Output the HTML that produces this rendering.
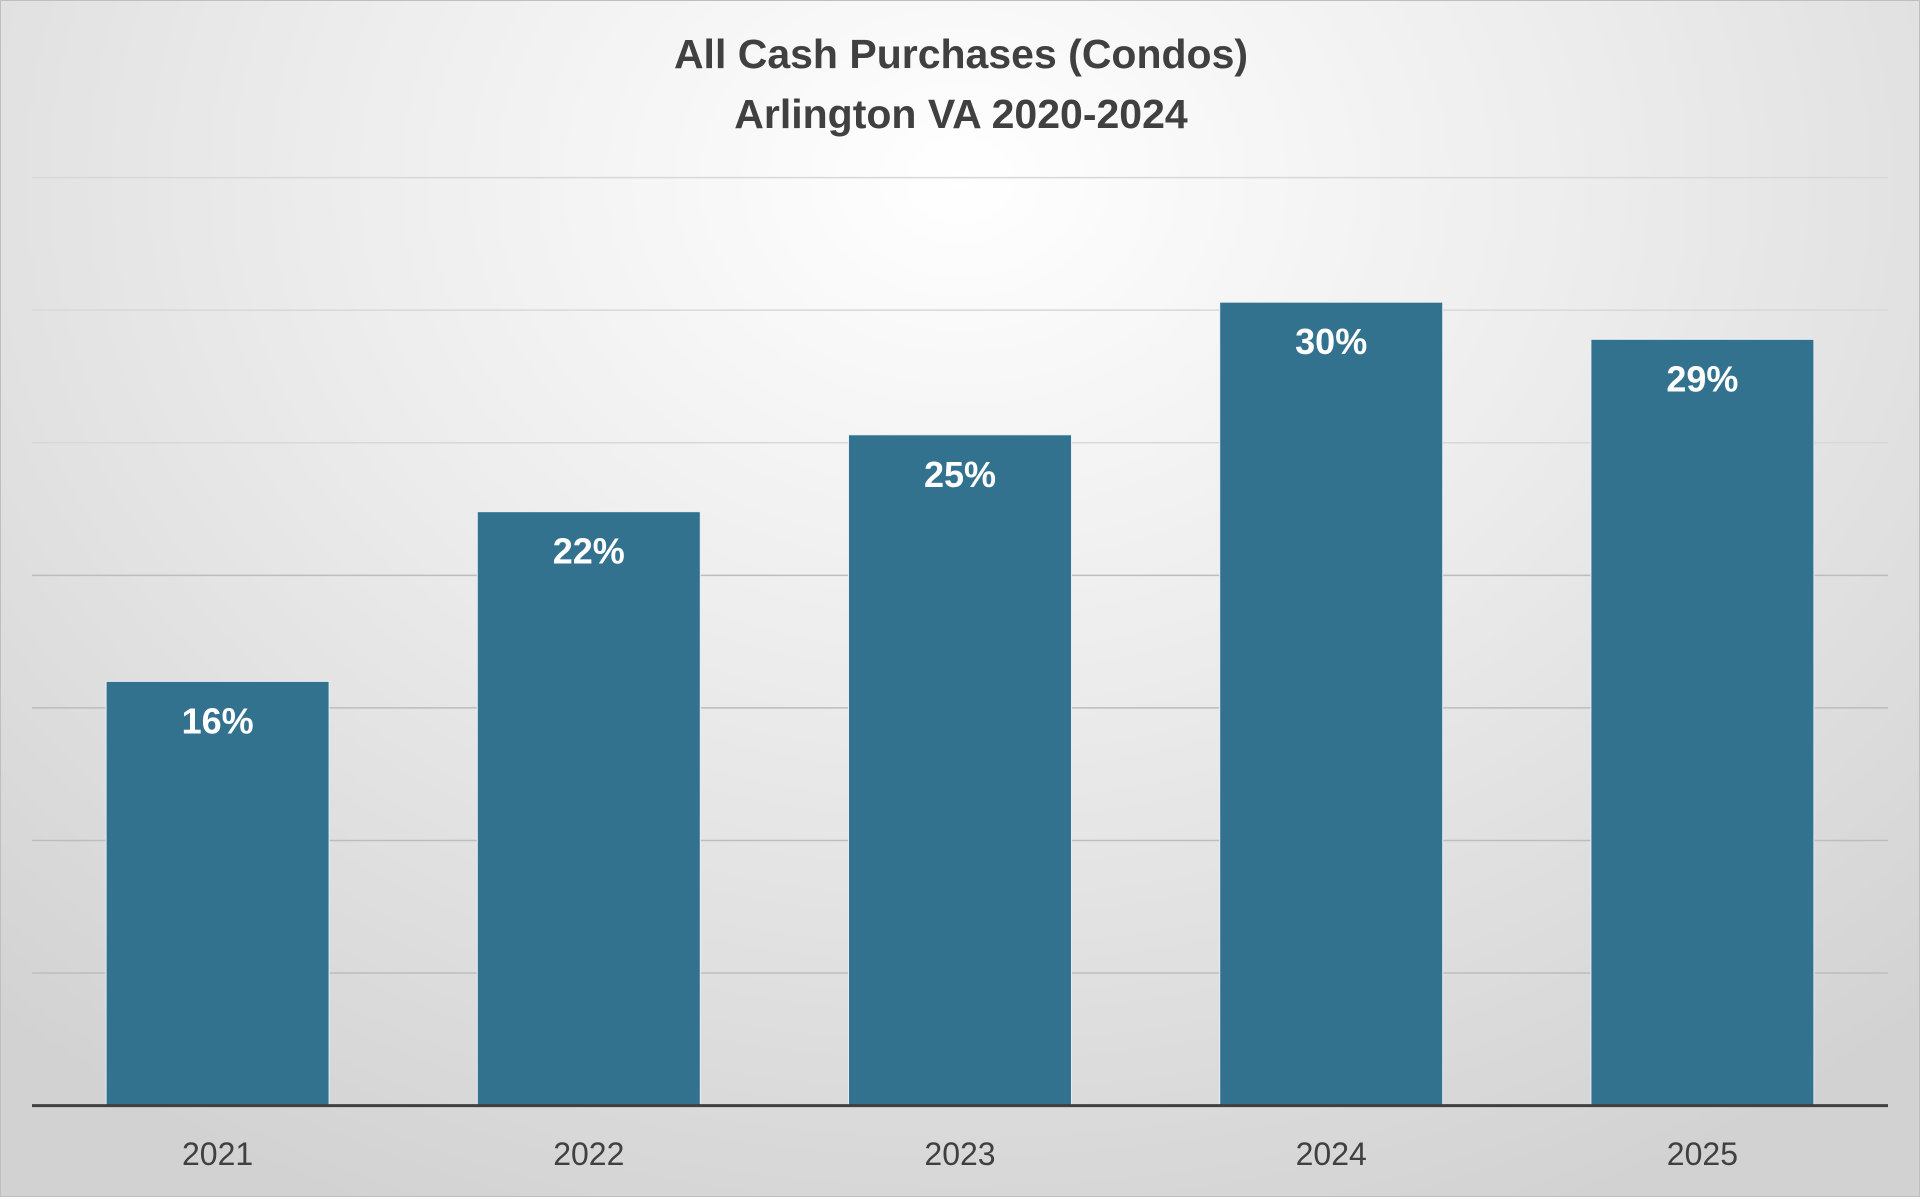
<!DOCTYPE html>
<html>
<head>
<meta charset="utf-8">
<style>
  html,body{margin:0;padding:0;}
  body{width:1920px;height:1197px;overflow:hidden;}
  #chart{position:absolute;left:0;top:0;width:1918px;height:1195px;border:1px solid #bfbfbf;
    background:radial-gradient(ellipse 75% 95% at 50% 15%, #ffffff 0%, #ececec 45%, #d2d2d2 100%);}
  svg{position:absolute;left:0;top:0;}
</style>
</head>
<body>
<div id="chart">
<svg id="svg" width="1920" height="1197" xmlns="http://www.w3.org/2000/svg">
  <text x="960" y="67" text-anchor="middle" font-family="Liberation Sans, sans-serif" font-weight="bold" font-size="41" fill="#404040">All Cash Purchases (Condos)</text>
  <text x="960" y="127" text-anchor="middle" font-family="Liberation Sans, sans-serif" font-weight="bold" font-size="41" fill="#404040">Arlington VA 2020-2024</text>
  <g id="grid"></g>
  <g id="bars"></g>
  <g id="labels"></g>
  <g id="xaxis"></g>
</svg>
</div>
<script>
const categories = ["2021","2022","2023","2024","2025"];
const values = [16, 22.4, 25.3, 30.3, 28.9];
const valueLabels = ["16%","22%","25%","30%","29%"];
const gridTicks = [0,5,10,15,20,25,30,35];

const NS = "http://www.w3.org/2000/svg";
const plotLeft = 31, plotRight = 1887, baseY = 1104.6, yMax = 35, topY = 176.6;
const catW = (plotRight - plotLeft) / categories.length;
const barW = 223;
function y(v){ return baseY - (v / yMax) * (baseY - topY); }
function xc(i){ return plotLeft + catW * (i + 0.5); }

const grid = document.getElementById('grid');
gridTicks.forEach(t => {
  if (t === 0) return;
  const l = document.createElementNS(NS,'line');
  l.setAttribute('x1', plotLeft); l.setAttribute('x2', plotRight);
  l.setAttribute('y1', y(t)); l.setAttribute('y2', y(t));
  l.setAttribute('stroke', t >= 25 ? '#d8d8d8' : '#bdbdbd'); l.setAttribute('stroke-width', '1.5');
  
  
  grid.appendChild(l);
});

const bars = document.getElementById('bars');
const labels = document.getElementById('labels');
const xaxis = document.getElementById('xaxis');
categories.forEach((c, i) => {
  const r = document.createElementNS(NS,'rect');
  r.setAttribute('x', xc(i) - barW/2); r.setAttribute('width', barW);
  r.setAttribute('y', y(values[i])); r.setAttribute('height', baseY - y(values[i]));
  r.setAttribute('fill', '#33728f'); r.setAttribute('stroke', '#e8eef2'); r.setAttribute('stroke-width', '1');
  
  
  bars.appendChild(r);

  const t = document.createElementNS(NS,'text');
  t.setAttribute('x', xc(i)); t.setAttribute('y', y(values[i]) + 52);
  t.setAttribute('text-anchor', 'middle'); t.setAttribute('font-family', 'Liberation Sans, sans-serif');
  t.setAttribute('font-weight', 'bold'); t.setAttribute('font-size', '36'); t.setAttribute('fill', '#ffffff');
  t.textContent = valueLabels[i];
  
  
  labels.appendChild(t);

  const a = document.createElementNS(NS,'text');
  a.setAttribute('x', xc(i)); a.setAttribute('y', 1164);
  a.setAttribute('text-anchor', 'middle'); a.setAttribute('font-family', 'Liberation Sans, sans-serif');
  a.setAttribute('font-size', '32'); a.setAttribute('fill', '#404040');
  a.textContent = c;
  
  
  xaxis.appendChild(a);
});

const ax = document.createElementNS(NS,'line');
ax.setAttribute('x1', plotLeft); ax.setAttribute('x2', plotRight);
ax.setAttribute('y1', baseY); ax.setAttribute('y2', baseY);
ax.setAttribute('stroke', '#404040'); ax.setAttribute('stroke-width', '3');


xaxis.appendChild(ax);
</script>
</body>
</html>
